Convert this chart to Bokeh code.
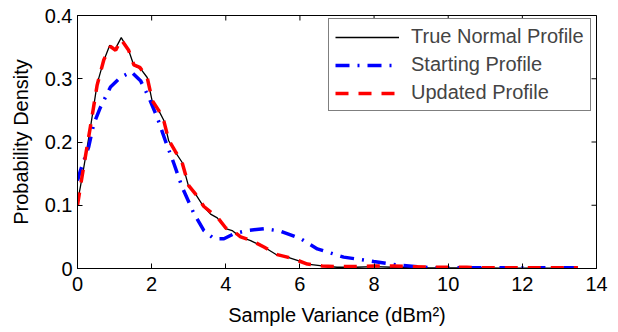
from bokeh.plotting import figure
from bokeh.models import Range1d, FixedTicker, Legend, LegendItem
from bokeh.embed import file_html
from bokeh.resources import INLINE

# ---- data ----
x_true = [0.0, 0.08, 0.17, 0.35, 0.53, 0.71, 0.87, 1.01, 1.18, 1.38, 1.52, 1.70, 1.88, 2.02,
          2.19, 2.33, 2.46, 2.64, 2.82, 3.0, 3.18, 3.41, 3.59, 3.77, 4.0, 4.17, 4.39,
          4.67, 5.03, 5.39, 5.66, 5.93, 6.2, 6.6, 7.0, 7.5, 8.0, 8.5, 9.0, 9.5, 10.0,
          10.5, 11.0, 11.5, 12.0, 12.5, 13.0, 13.5]
y_true = [0.105, 0.13, 0.16, 0.223, 0.292, 0.329, 0.353, 0.346, 0.365, 0.345, 0.321, 0.316,
          0.302, 0.263, 0.250, 0.234, 0.202, 0.184, 0.168, 0.129, 0.118, 0.097, 0.086,
          0.080, 0.063, 0.060, 0.050, 0.044, 0.034, 0.021, 0.018, 0.013, 0.007, 0.004,
          0.002, 0.002, 0.003, 0.002, 0.002, 0.001, 0.001, 0.001, 0.001, 0.0005, 0.0005,
          0.0005, 0.0005, 0.0005]

x_start = [0.0, 0.08, 0.30, 0.44, 0.62, 0.89, 1.16, 1.45, 1.70, 1.92, 2.15, 2.37, 2.60,
           2.82, 3.14, 3.41, 3.68, 3.95, 4.22, 4.58, 5.03, 5.48, 6.02, 6.47, 7.18, 7.99,
           8.71, 9.6, 10.5, 11.5, 12.5, 13.5]
y_start = [0.139, 0.155, 0.192, 0.229, 0.255, 0.287, 0.302, 0.311, 0.297, 0.271, 0.239,
           0.202, 0.166, 0.129, 0.087, 0.060, 0.047, 0.047, 0.055, 0.060, 0.063, 0.059,
           0.047, 0.031, 0.018, 0.011, 0.005, 0.001, 0.001, 0.001, 0.001, 0.001]

x_upd = [0.0, 0.08, 0.17, 0.35, 0.53, 0.71, 0.89, 1.03, 1.18, 1.38, 1.52, 1.68, 1.88, 2.02,
         2.19, 2.33, 2.46, 2.64, 2.82, 3.0, 3.18, 3.41, 3.62, 3.80, 4.0, 4.2, 4.4, 4.7,
         5.03, 5.39, 5.66, 5.93, 6.2, 6.6, 7.0, 7.5, 8.0, 8.5, 9.0, 9.5, 10.0, 10.5,
         11.0, 11.5, 12.0, 12.5, 13.0, 13.5]
y_upd = [0.100, 0.13, 0.162, 0.225, 0.290, 0.330, 0.351, 0.345, 0.362, 0.345, 0.322, 0.318,
         0.302, 0.265, 0.250, 0.233, 0.203, 0.185, 0.168, 0.131, 0.118, 0.098, 0.088,
         0.079, 0.064, 0.059, 0.050, 0.044, 0.034, 0.022, 0.018, 0.013, 0.007, 0.004,
         0.003, 0.003, 0.004, 0.004, 0.003, 0.002, 0.002, 0.002, 0.001, 0.001, 0.001,
         0.001, 0.001, 0.001]

x_ticks = [0, 2, 4, 6, 8, 10, 12, 14]
y_ticks = [0, 0.1, 0.2, 0.3, 0.4]
y_tick_labels = ["0", "0.1", "0.2", "0.3", "0.4"]
series_names = ["True Normal Profile", "Starting Profile", "Updated Profile"]

FONT = "Liberation Sans"
FS = "20px"

p = figure(width=618, height=332, output_backend="svg", toolbar_location=None,
           x_range=Range1d(0, 14), y_range=Range1d(0, 0.4),
           min_border_left=77, min_border_right=22, min_border_top=15, min_border_bottom=64)
p.background_fill_color = "white"
p.border_fill_color = "white"
p.outline_line_color = "black"
p.outline_line_width = 1
p.xgrid.visible = False
p.ygrid.visible = False

def style_axis(ax):
    ax.axis_line_color = "black"
    ax.major_tick_line_color = "black"
    ax.major_tick_in = 5
    ax.major_tick_out = 0
    ax.minor_tick_line_color = None
    ax.major_label_text_font = FONT
    ax.major_label_text_color = "black"
    ax.major_label_text_font_size = FS
    ax.axis_label_text_font = FONT
    ax.axis_label_text_font_size = FS
    ax.axis_label_text_font_style = "normal"
    ax.axis_label_text_color = "black"

xa = p.xaxis[0]
xa.ticker = FixedTicker(ticks=x_ticks)
style_axis(xa)
xa.major_label_standoff = 8
xa.axis_label = "Sample Variance (dBm\u00b2)"
xa.axis_label_standoff = 10

ya = p.yaxis[0]
ya.ticker = FixedTicker(ticks=y_ticks)
ya.major_label_overrides = {t: l for t, l in zip(y_ticks, y_tick_labels)}
style_axis(ya)
ya.major_label_standoff = 5
ya.axis_label = "Probability Density"
ya.axis_label_standoff = 10

# inward tick marks on the top and right edges of the box (MATLAB style)
y_top = [p.y_range.end] * len(x_ticks)
x_right = [p.x_range.end] * len(y_ticks)
p.scatter(x_ticks, y_top, marker="dash", size=10, angle=90, angle_units="deg",
          line_color="black", line_width=1)
p.scatter(x_right, y_ticks, marker="dash", size=10,
          line_color="black", line_width=1)

r_true = p.line(x_true, y_true, line_color="black", line_width=1.3)
r_start = p.line(x_start, y_start, line_color="blue", line_width=3.5,
                 line_dash="14 8 2 8", line_cap="butt")
r_upd = p.line(x_upd, y_upd, line_color="red", line_width=3.5,
               line_dash="13 10", line_cap="butt")

legend = Legend(items=[LegendItem(label=series_names[0], renderers=[r_true]),
                       LegendItem(label=series_names[1], renderers=[r_start]),
                       LegendItem(label=series_names[2], renderers=[r_upd])],
                location=(251, 157))
legend.margin = 0
legend.padding = 6
legend.spacing = 5
legend.glyph_width = 64
legend.glyph_height = 20
legend.label_height = 20
legend.label_standoff = 12
legend.label_text_font = FONT
legend.label_text_font_size = FS
legend.border_line_color = "black"
legend.border_line_width = 1
legend.background_fill_color = "white"
legend.background_fill_alpha = 1
p.add_layout(legend, "center")

open("out.html", "w").write(file_html(p, INLINE))
